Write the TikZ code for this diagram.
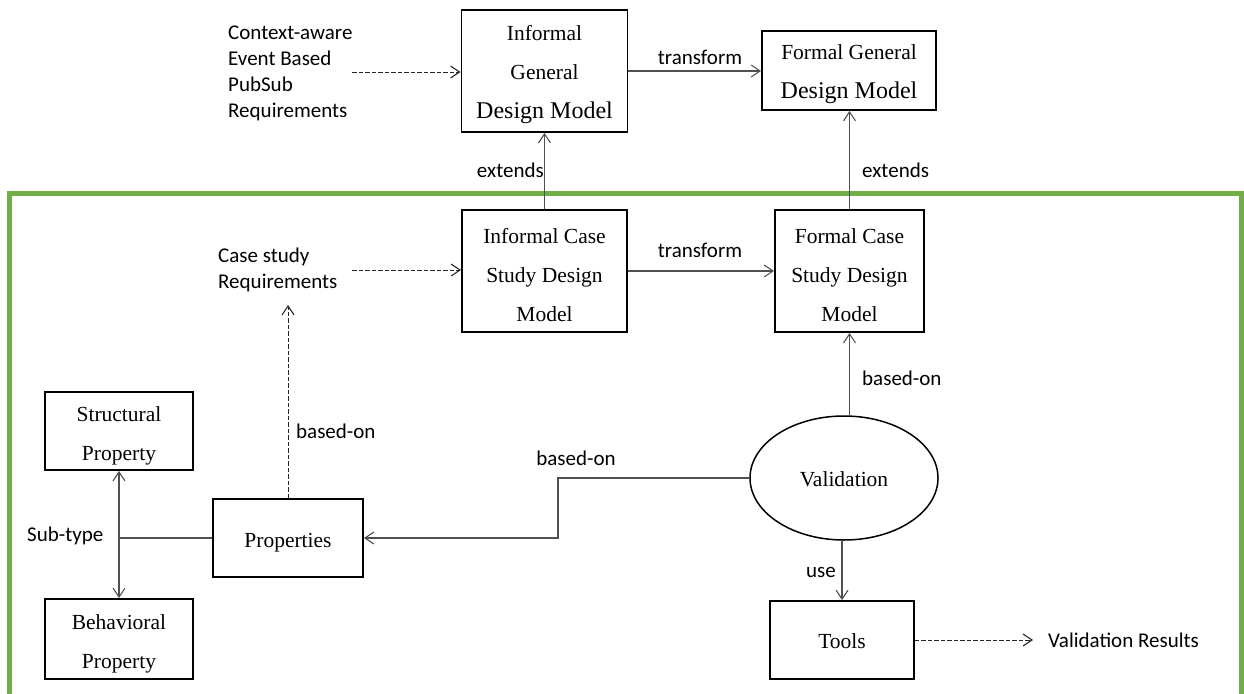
\documentclass[tikz,border=0pt]{standalone}
\usepackage{fontspec}
\setmainfont{Liberation Serif}
\newfontfamily\calfont{Carlito}
\usetikzlibrary{arrows.meta,shapes.geometric}
\definecolor{frameg}{HTML}{70AD47}
\definecolor{conn}{HTML}{505050}
\tikzset{
  box/.style={draw=black, line width=1.8pt, rectangle, inner sep=0pt},
  btxt/.style={inner sep=0pt, align=center, yshift=-4pt,
    font=\fontsize{21.5}{39}\selectfont},
  txt/.style={inner sep=0pt, font=\calfont\fontsize{21}{26}\selectfont, align=left},
  lbl/.style={inner sep=0pt, font=\calfont\fontsize{21}{26}\selectfont},
  conline/.style={draw=conn, line width=1.1pt},
  arr/.style={conline, -{Straight Barb[length=9pt,width=12pt,line width=1.1pt]}},
  darr/.style={arr, draw=black!85, line width=1pt, dash pattern=on 4.5pt off 2pt},
}
\begin{document}
\begin{tikzpicture}[x=1pt,y=-1pt]
\useasboundingbox (0,0) rectangle (1244,693);
\clip (0,0) rectangle (1244,693);
% green frame
\draw[frameg, line width=5pt] (9.5,193.5) rectangle (1241.5,760);

% boxes
\node[box, minimum width=166pt, minimum height=122pt] (igdm) at (544.5,71) {};
\node[box, minimum width=174pt, minimum height=79pt] (fgdm) at (849,70.5) {};
\node[box, minimum width=165pt, minimum height=122pt] (ics) at (544.5,271) {};
\node[box, minimum width=149pt, minimum height=122pt] (fcs) at (849.5,271) {};
\node[box, minimum width=148pt, minimum height=78pt] (sp) at (119,431) {};
\node[box, minimum width=148pt, minimum height=80pt] (bp) at (119,639) {};
\node[box, minimum width=150pt, minimum height=78pt] (prop) at (288,538) {};
\node[box, minimum width=144pt, minimum height=78pt] (tools) at (842,640) {};
\node[draw=black, line width=1.5pt, ellipse, inner sep=0pt, minimum width=188pt,
  minimum height=124pt] (val) at (844,478) {};

% box texts
\node[btxt] (igdmT) at (igdm.center) {Informal\\General\\{\fontsize{24}{40}\selectfont Design Model}};
\node[btxt] (fgdmT) at (fgdm.center) {Formal General\\{\fontsize{24}{41}\selectfont Design Model}};
\node[btxt] (icsT) at (ics.center) {Informal Case\\Study Design\\Model};
\node[btxt] (fcsT) at (fcs.center) {Formal Case\\Study Design\\Model};
\node[btxt, yshift=-1pt] (spT) at (sp.center) {Structural\\Property};
\node[btxt, yshift=-1pt] (bpT) at (bp.center) {Behavioral\\Property};
\node[btxt, yshift=-1pt] (propT) at (prop.center) {Properties};
\node[btxt, yshift=3pt] (toolsT) at (tools.center) {Tools};
\node[btxt, yshift=3pt] (valT) at (val.center) {Validation};

% free texts
\node[txt, anchor=west] (req1) at (228,73)
  {Context-aware\\Event Based\\PubSub\\Requirements};
\node[txt, anchor=west] (req2) at (218,270)
  {Case study\\Requirements};
\node[txt, anchor=west] (valres) at (1048,640) {Validation Results};
\node[lbl, anchor=base west] (subtype) at (27,541) {Sub-type};

% coordinates
\coordinate (r1) at (352,72);
\coordinate (r2) at (352,270);
\coordinate (rq2b) at (288,305);
\coordinate (bendx) at (558,500);
\coordinate (vr) at (1033,640);
\coordinate (st) at (119,538);

% connectors
\draw[darr] (r1) -- (igdm.west |- r1);
\draw[arr] (igdm.east) -- (fgdm.west |- igdm.east);
\draw[arr] (ics.north) -- (igdm.south);
\draw[arr] (fcs.north) -- (fgdm.south -| fcs.north);
\draw[darr] (r2) -- (ics.west |- r2);
\draw[arr] (ics.east) -- (fcs.west);
\draw[darr] (prop.north) -- (rq2b);
\draw[arr] (val.west) -| (bendx) |- (prop.east);
\draw[arr] (val.north -| fcs.south) -- (fcs.south);
\draw[arr] (val.south -| tools.north) -- (tools.north);
\draw[darr] (tools.east) -- (vr);
\draw[conline] (prop.west) -- (st);
\draw[conline, {Straight Barb[length=9pt,width=12pt,line width=1.1pt]}-{Straight Barb[length=9pt,width=12pt,line width=1.1pt]}] (sp.south) -- (bp.north);

% labels
\node[lbl, anchor=base] (l1) at (700,64) {transform};
\node[lbl, anchor=base east] (l2) at (544,177) {extends};
\node[lbl, anchor=base west] (l3) at (862,177) {extends};
\node[lbl, anchor=base] (l4) at (700,257) {transform};
\node[lbl, anchor=base west] (l5) at (296,438) {based-on};
\node[lbl, anchor=base] (l6) at (576,465) {based-on};
\node[lbl, anchor=base west] (l7) at (862,385) {based-on};
\node[lbl, anchor=base east] (l8) at (836,577) {use};
\end{tikzpicture}
\end{document}
